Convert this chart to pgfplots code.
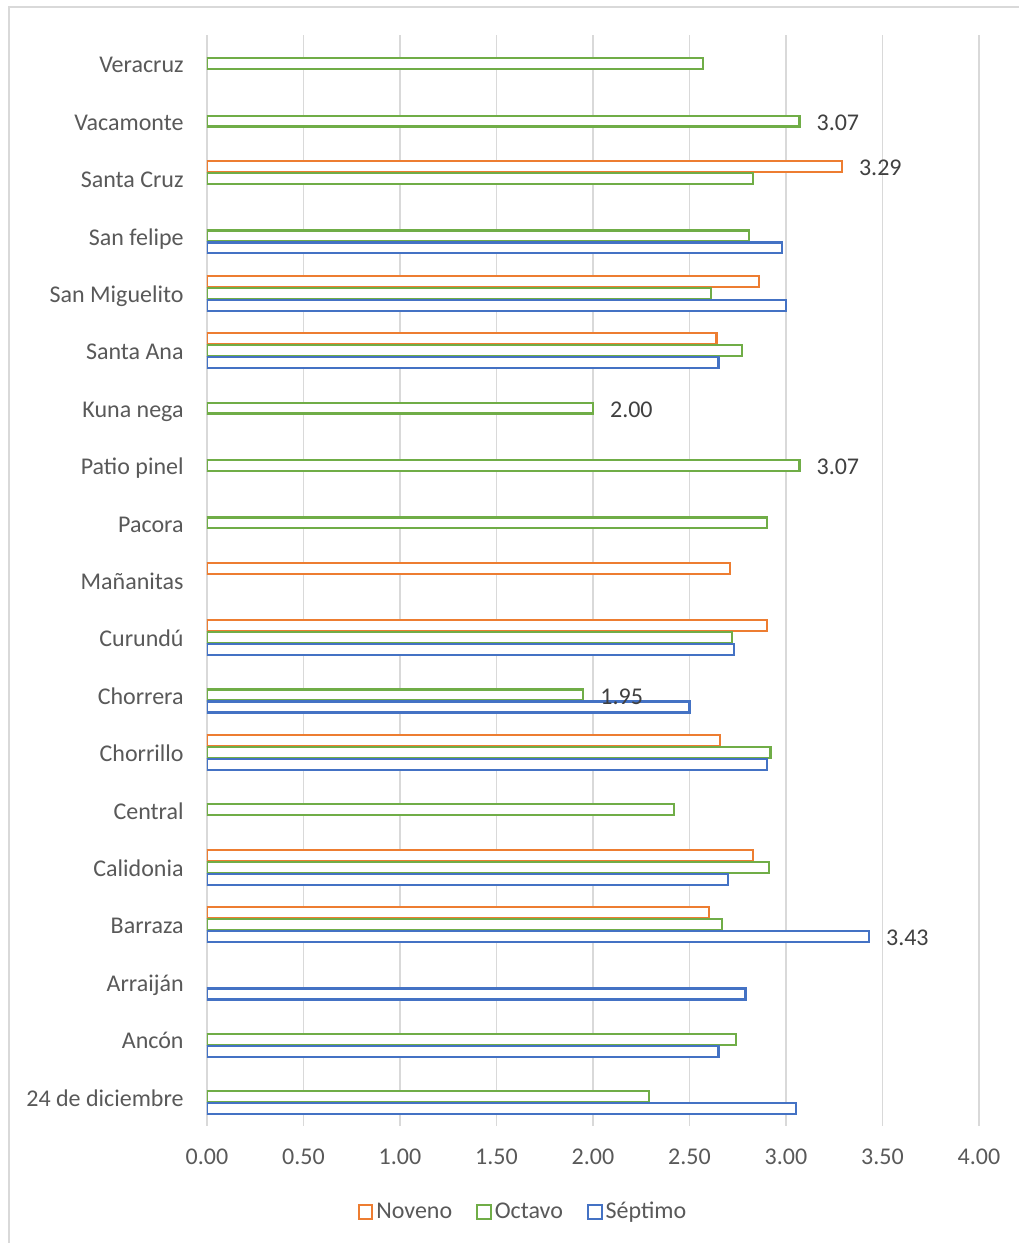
\documentclass[border=0pt]{standalone}
\usepackage{pgfplots}
\pgfplotsset{compat=1.18}
\usepackage{fontspec}
\setmainfont{Carlito}
\definecolor{cNov}{HTML}{ED7D31}
\definecolor{cOct}{HTML}{70AD47}
\definecolor{cSep}{HTML}{4472C4}
\definecolor{cGrid}{HTML}{D9D9D9}
\definecolor{cTxt}{HTML}{595959}
\definecolor{cLab}{HTML}{404040}
\begin{document}
\begin{tikzpicture}
\useasboundingbox[fill=white] (-103.5pt,-58.75pt) rectangle (405.5pt,562.75pt);
\draw[cGrid, line width=0.9pt] (-99pt,-60pt) -- (-99pt,559.25pt) -- (407pt,559.25pt);
\begin{axis}[
  at={(0,0)}, anchor=south west,
  width=386pt, height=545.25pt, scale only axis,
  xmin=0, xmax=4, ymin=-0.5, ymax=18.5,
  xtick={0,0.5,...,4},
  ytick={0,...,18},
  yticklabels={24 de diciembre,Ancón,Arraiján,Barraza,Calidonia,Central,Chorrillo,Chorrera,Curundú,Mañanitas,Pacora,Patio pinel,Kuna nega,Santa Ana,San Miguelito,San felipe,Santa Cruz,Vacamonte,Veracruz},
  major tick length=0pt,
  axis lines*=left,
  x axis line style={draw=none},
  y axis line style={draw=cGrid, line width=0.75pt},
  xmajorgrids,
  grid style={cGrid, line width=0.75pt},
  tick label style={font=\fontsize{12}{14}\selectfont, text=cTxt},
  xticklabel style={anchor=base, inner sep=0pt, yshift=-19.5pt,
    /pgf/number format/.cd, fixed, fixed zerofill, precision=2, assume math mode=true},
  yticklabel style={anchor=base east, inner sep=0pt, xshift=-11.5pt, yshift=-4.6pt},
  xbar, bar width=0.19,
  every axis plot/.append style={line width=1.1pt, fill=white},
  legend columns=3,
  legend style={draw=none, fill=none, at={(0.41,-0.0795)}, anchor=center,
    font=\fontsize{12}{14}\selectfont, text=cTxt,
    /tikz/every even column/.append style={column sep=10.5pt},
    inner sep=0pt, nodes={inner sep=1.5pt}},
  legend image code/.code={\draw[#1, line width=1pt, fill=white] (0pt,-3.4pt) rectangle (6.8pt,3.4pt);},
  nodes near coords style={font=\fontsize{12}{14}\selectfont, text=cLab, anchor=base west, inner sep=0pt, xshift=8pt, yshift=-4.6pt},
]
% Noveno (top slot)
\addplot[draw=cNov, bar shift=0.209] coordinates {
 (3.29,16) (2.86,14) (2.64,13) (2.71,9) (2.90,8) (2.66,6) (2.83,4) (2.60,3)
};
\addlegendentry{Noveno}
% Octavo (middle slot)
\addplot[draw=cOct, bar shift=0] coordinates {
 (2.57,18) (3.07,17) (2.83,16) (2.81,15) (2.61,14) (2.77,13) (2.00,12) (3.07,11)
 (2.90,10) (2.72,8) (1.95,7) (2.92,6) (2.42,5) (2.91,4) (2.67,3) (2.74,1) (2.29,0)
};
\addlegendentry{Octavo}
% Séptimo (bottom slot)
\addplot[draw=cSep, bar shift=-0.209] coordinates {
 (2.98,15) (3.00,14) (2.65,13) (2.73,8) (2.50,7) (2.90,6) (2.70,4) (3.43,3)
 (2.79,2) (2.65,1) (3.05,0)
};
\addlegendentry{Séptimo}
% data labels
\addplot[forget plot, draw=none, fill=none, bar shift=0.209, point meta=explicit symbolic, nodes near coords] coordinates {
 (3.29,16) [3.29]
};
\addplot[forget plot, draw=none, fill=none, bar shift=0, point meta=explicit symbolic, nodes near coords] coordinates {
 (3.07,17) [3.07] (2.00,12) [2.00] (3.07,11) [3.07] (1.95,7) [1.95]
};
\addplot[forget plot, draw=none, fill=none, bar shift=-0.209, point meta=explicit symbolic, nodes near coords] coordinates {
 (3.43,3) [3.43]
};
\end{axis}
\end{tikzpicture}
\end{document}
